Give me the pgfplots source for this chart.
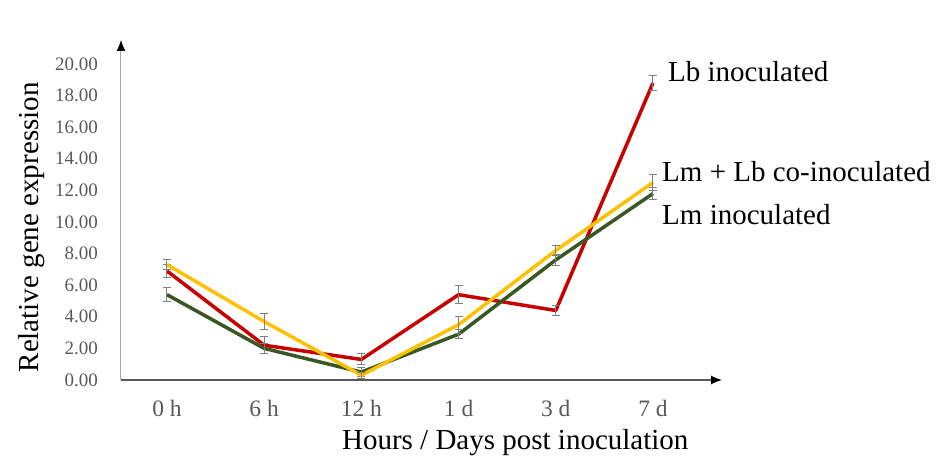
\documentclass[border=0pt]{standalone}
\usepackage{pgfplots}
\pgfplotsset{compat=1.18}
\usepackage{pgfplotstable}
\usepackage{fontspec}
\setmainfont{Liberation Serif}
\usetikzlibrary{arrows.meta}

\definecolor{lbred}{HTML}{C80000}
\definecolor{coyellow}{HTML}{FFC000}
\definecolor{lmgreen}{HTML}{385723}
\definecolor{ticktext}{HTML}{595959}

% x = 0 h, 6 h, 12 h, 1 d, 3 d, 7 d ; e = error bar half-length
\pgfplotstableread{
x y e
0 6.9 0.40
1 2.2 0.55
2 1.3 0.35
3 5.4 0.55
4 4.4 0.30
5 18.8 0.50
}\lbdata
\pgfplotstableread{
x y e
0 5.4 0.45
1 2.0 0.30
2 0.5 0.30
3 2.9 0.30
4 7.6 0.35
5 11.8 0.40
}\lmdata
\pgfplotstableread{
x y e
0 7.3 0.30
1 3.7 0.50
2 0.3 0.20
3 3.5 0.55
4 8.2 0.30
5 12.5 0.50
}\codata

\begin{document}
\begin{tikzpicture}
\path[use as bounding box] (-121pt,-82pt) rectangle (829pt,380pt);
\begin{axis}[
    scale only axis,
    width=601pt, height=340pt,
    xmin=-0.473, xmax=5.71,
    ymin=0, ymax=21.52,
    axis lines=left,
    x axis line style={color=ticktext, line width=1.2pt, -{Latex[length=11pt,width=9pt,color=black]}},
    y axis line style={color=black!35, line width=1pt, -{Latex[length=11pt,width=9pt,color=black]}},
    xtick={0,1,2,3,4,5},
    xticklabels={0 h, 6 h, 12 h, 1 d, 3 d, 7 d},
    ytick={0,2,...,20},
    major tick length=0pt,
    /pgf/number format/.cd, fixed, fixed zerofill, precision=2, assume math mode=true,
    /pgfplots/.cd,
    ticklabel style={text=ticktext, inner sep=0pt},
    yticklabel style={font=\fontsize{19}{22}\selectfont, anchor=east, xshift=-23pt},
    xticklabel style={font=\fontsize{23.5}{26}\selectfont, anchor=base, yshift=-37pt},
    xlabel={Hours / Days post inoculation},
    ylabel={Relative gene expression},
    label style={font=\fontsize{29}{34}\selectfont, inner sep=0pt},
    xlabel style={at={(axis description cs:0.656,0)}, anchor=base, yshift=-70pt},
    ylabel style={at={(axis description cs:-0.138,0.449)}, anchor=base, rotate=0},
    clip=false,
]
\addplot[lbred, line width=3.5pt, line join=round, mark=none,
  error bars/.cd, y dir=both, y explicit,
  error bar style={color=gray, line width=1pt},
  error mark options={rotate=90, mark size=4pt, color=gray, line width=1pt}]
  table[x=x, y=y, y error=e] {\lbdata};
\addplot[lmgreen, line width=3.5pt, line join=round, mark=none,
  error bars/.cd, y dir=both, y explicit,
  error bar style={color=gray, line width=1pt},
  error mark options={rotate=90, mark size=4pt, color=gray, line width=1pt}]
  table[x=x, y=y, y error=e] {\lmdata};
\addplot[coyellow, line width=3.5pt, line join=round, mark=none,
  error bars/.cd, y dir=both, y explicit,
  error bar style={color=gray, line width=1pt},
  error mark options={rotate=90, mark size=4pt, color=gray, line width=1pt}]
  table[x=x, y=y, y error=e] {\codata};

\node[anchor=west, inner sep=0pt, font=\fontsize{29}{34}\selectfont] at (axis cs:5.154,19.5) {Lb inoculated};
\node[anchor=west, inner sep=0pt, font=\fontsize{29}{34}\selectfont] at (axis cs:5.093,13.16) {Lm + Lb co-inoculated};
\node[anchor=west, inner sep=0pt, font=\fontsize{29}{34}\selectfont] at (axis cs:5.093,10.44) {Lm inoculated};
\end{axis}
\end{tikzpicture}
\end{document}
